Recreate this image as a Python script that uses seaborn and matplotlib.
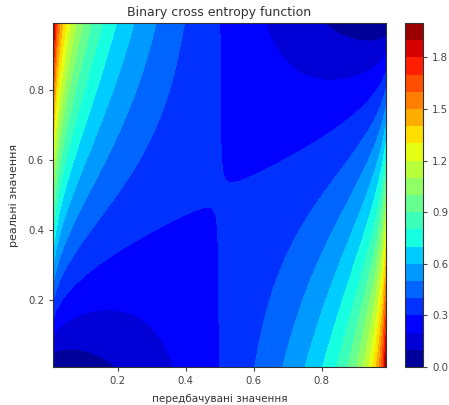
import numpy as np
import matplotlib
matplotlib.use("Agg")
import matplotlib.pyplot as plt
import seaborn as sns

# Axis grids: predicted values (x) and real values (y)
predicted = np.linspace(0.01, 0.99, 99)
real = np.linspace(0.01, 0.99, 99)
cbar_ticks = [0.0, 0.3, 0.6, 0.9, 1.2, 1.5, 1.8]
x_ticks = [0.2, 0.4, 0.6, 0.8]
y_ticks = [0.2, 0.4, 0.6, 0.8]

P, Y = np.meshgrid(predicted, real)
# binary cross entropy (log base 10)
Z = -(Y * np.log10(P) + (1 - Y) * np.log10(1 - P))

sns.set_style("ticks")
plt.rcParams['font.family'] = ['DejaVu Sans']

fig = plt.figure(figsize=(4.49, 4.05), dpi=100)
ax = fig.add_axes([0.118, 0.094, 0.742, 0.849])
cax = fig.add_axes([0.902, 0.094, 0.040, 0.849])

levels = np.arange(0, 2.0001, 0.1)
cf = ax.contourf(P, Y, Z, levels=levels, cmap="jet")
cb = fig.colorbar(cf, cax=cax, ticks=cbar_ticks)
cb.ax.tick_params(labelsize=7.3, color="#444444", labelcolor="#444444", length=3)
cb.ax.set_yticklabels([f"{t:.1f}" for t in cbar_ticks])
cb.outline.set_edgecolor("#333333")

ax.set_xticks(x_ticks)
ax.set_yticks(y_ticks)
ax.tick_params(labelsize=7.3, colors="#444444", length=3)
for s in ax.spines.values():
    s.set_visible(True)
    s.set_edgecolor("#333333")
ax.set_title("Binary cross entropy function", fontsize=9, color="#333333", pad=5)
ax.set_xlabel("передбачувані значення", fontsize=7.5, color="#333333", labelpad=6)
ax.set_ylabel("реальні значення", fontsize=8, color="#333333", labelpad=6)

fig.savefig("out.png", dpi=100)
